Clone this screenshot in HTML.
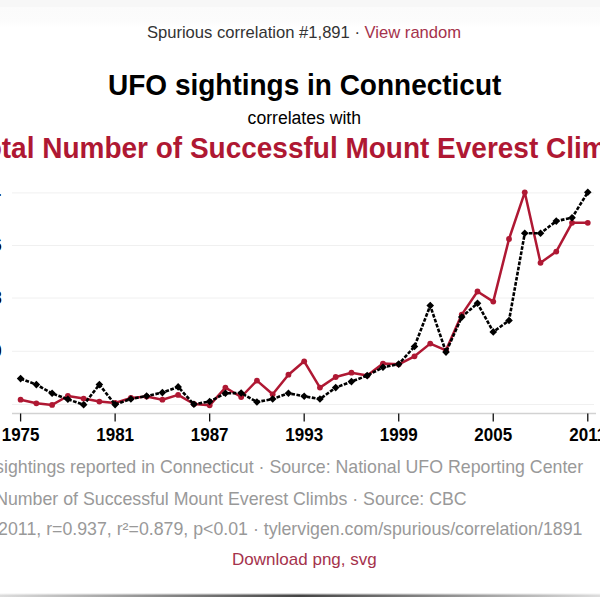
<!DOCTYPE html>
<html><head><meta charset="utf-8"><style>
html,body{margin:0;padding:0;background:#fff;width:600px;height:600px;overflow:hidden}
svg{display:block}
text{font-family:"Liberation Sans",sans-serif}
.ax{font-weight:bold;font-size:17px;fill:#000}
.top{font-size:16.6px;fill:#333}
.ft{font-size:17.75px;fill:#999}
</style></head><body>
<svg width="600" height="600" viewBox="0 0 600 600">
<defs>
<linearGradient id="tg" x1="0" y1="0" x2="0" y2="1"><stop offset="0" stop-color="#fbfbfb"/><stop offset="0.7" stop-color="#fcfcfc"/><stop offset="1" stop-color="#fff"/></linearGradient>
<linearGradient id="bg" x1="0" y1="0" x2="1" y2="0"><stop offset="0" stop-color="#ddd"/><stop offset="0.5" stop-color="#444"/><stop offset="1" stop-color="#ddd"/></linearGradient>
</defs>
<rect x="0" y="0" width="600" height="7.5" fill="#f7f7f7"/><rect x="0" y="7.5" width="600" height="20" fill="url(#tg)"/>
<text x="304" y="37.7" text-anchor="middle" class="top">Spurious correlation #1,891 · <tspan fill="#a5324c">View random</tspan></text>
<text transform="translate(304.7 94.9) scale(1 1.05)" x="0" y="0" text-anchor="middle" style="font-weight:bold;font-size:28px" fill="#000">UFO sightings in Connecticut</text>
<text x="304.3" y="123.5" text-anchor="middle" style="font-size:17.6px" fill="#000">correlates with</text>
<text transform="translate(304.5 157.7) scale(1 1.04)" x="0" y="0" text-anchor="middle" style="font-weight:bold;font-size:28px" fill="#af1833">Total Number of Successful Mount Everest Climbs</text>
<line x1="12" x2="594" y1="192.9" y2="192.9" stroke="#f0f0f0" stroke-width="1"/><line x1="12" x2="594" y1="245.5" y2="245.5" stroke="#f0f0f0" stroke-width="1"/><line x1="12" x2="594" y1="298" y2="298" stroke="#f0f0f0" stroke-width="1"/><line x1="12" x2="594" y1="351.3" y2="351.3" stroke="#f0f0f0" stroke-width="1"/><line x1="12" x2="594" y1="404.5" y2="404.5" stroke="#f0f0f0" stroke-width="1"/>
<line x1="12" x2="596" y1="413.6" y2="413.6" stroke="#d2d2d2" stroke-width="1.5"/>
<line x1="20.60" x2="20.60" y1="413.5" y2="421.5" stroke="#111" stroke-width="1.3"/><line x1="115.13" x2="115.13" y1="413.5" y2="421.5" stroke="#111" stroke-width="1.3"/><line x1="209.66" x2="209.66" y1="413.5" y2="421.5" stroke="#111" stroke-width="1.3"/><line x1="304.19" x2="304.19" y1="413.5" y2="421.5" stroke="#111" stroke-width="1.3"/><line x1="398.72" x2="398.72" y1="413.5" y2="421.5" stroke="#111" stroke-width="1.3"/><line x1="493.25" x2="493.25" y1="413.5" y2="421.5" stroke="#111" stroke-width="1.3"/><line x1="587.78" x2="587.78" y1="413.5" y2="421.5" stroke="#111" stroke-width="1.3"/><text transform="translate(20.60 441.3) scale(1 1.08)" text-anchor="middle" class="ax">1975</text><text transform="translate(115.13 441.3) scale(1 1.08)" text-anchor="middle" class="ax">1981</text><text transform="translate(209.66 441.3) scale(1 1.08)" text-anchor="middle" class="ax">1987</text><text transform="translate(304.19 441.3) scale(1 1.08)" text-anchor="middle" class="ax">1993</text><text transform="translate(398.72 441.3) scale(1 1.08)" text-anchor="middle" class="ax">1999</text><text transform="translate(493.25 441.3) scale(1 1.08)" text-anchor="middle" class="ax">2005</text><text transform="translate(587.78 441.3) scale(1 1.08)" text-anchor="middle" class="ax">2011</text><text transform="translate(0.8 198.8) scale(1 1.08)" text-anchor="end" class="ax">24</text><text transform="translate(1.8 251) scale(1 1.08)" text-anchor="end" class="ax">16</text><text transform="translate(1.8 304) scale(1 1.08)" text-anchor="end" class="ax">8</text><text transform="translate(1.7 357) scale(1 1.08)" text-anchor="end" class="ax">0</text>
<polyline points="20.60,399.70 36.36,403.30 52.11,404.90 67.87,396.00 83.62,398.60 99.38,401.60 115.13,403.00 130.89,398.00 146.64,396.60 162.40,399.70 178.15,394.90 193.91,404.00 209.66,405.30 225.41,387.60 241.17,397.00 256.93,380.60 272.68,394.30 288.44,374.70 304.19,361.30 319.95,387.60 335.70,377.00 351.46,372.70 367.21,375.60 382.97,363.60 398.72,364.30 414.48,356.30 430.23,343.60 445.99,350.30 461.74,314.60 477.50,291.50 493.25,301.60 509.01,239.00 524.76,192.30 540.52,262.80 556.27,251.60 572.03,222.80 587.78,222.80" fill="none" stroke="#af1833" stroke-width="2.5" stroke-linejoin="round"/>
<circle cx="20.60" cy="399.70" r="2.9" fill="#af1833"/><circle cx="36.36" cy="403.30" r="2.9" fill="#af1833"/><circle cx="52.11" cy="404.90" r="2.9" fill="#af1833"/><circle cx="67.87" cy="396.00" r="2.9" fill="#af1833"/><circle cx="83.62" cy="398.60" r="2.9" fill="#af1833"/><circle cx="99.38" cy="401.60" r="2.9" fill="#af1833"/><circle cx="115.13" cy="403.00" r="2.9" fill="#af1833"/><circle cx="130.89" cy="398.00" r="2.9" fill="#af1833"/><circle cx="146.64" cy="396.60" r="2.9" fill="#af1833"/><circle cx="162.40" cy="399.70" r="2.9" fill="#af1833"/><circle cx="178.15" cy="394.90" r="2.9" fill="#af1833"/><circle cx="193.91" cy="404.00" r="2.9" fill="#af1833"/><circle cx="209.66" cy="405.30" r="2.9" fill="#af1833"/><circle cx="225.41" cy="387.60" r="2.9" fill="#af1833"/><circle cx="241.17" cy="397.00" r="2.9" fill="#af1833"/><circle cx="256.93" cy="380.60" r="2.9" fill="#af1833"/><circle cx="272.68" cy="394.30" r="2.9" fill="#af1833"/><circle cx="288.44" cy="374.70" r="2.9" fill="#af1833"/><circle cx="304.19" cy="361.30" r="2.9" fill="#af1833"/><circle cx="319.95" cy="387.60" r="2.9" fill="#af1833"/><circle cx="335.70" cy="377.00" r="2.9" fill="#af1833"/><circle cx="351.46" cy="372.70" r="2.9" fill="#af1833"/><circle cx="367.21" cy="375.60" r="2.9" fill="#af1833"/><circle cx="382.97" cy="363.60" r="2.9" fill="#af1833"/><circle cx="398.72" cy="364.30" r="2.9" fill="#af1833"/><circle cx="414.48" cy="356.30" r="2.9" fill="#af1833"/><circle cx="430.23" cy="343.60" r="2.9" fill="#af1833"/><circle cx="445.99" cy="350.30" r="2.9" fill="#af1833"/><circle cx="461.74" cy="314.60" r="2.9" fill="#af1833"/><circle cx="477.50" cy="291.50" r="2.9" fill="#af1833"/><circle cx="493.25" cy="301.60" r="2.9" fill="#af1833"/><circle cx="509.01" cy="239.00" r="2.9" fill="#af1833"/><circle cx="524.76" cy="192.30" r="2.9" fill="#af1833"/><circle cx="540.52" cy="262.80" r="2.9" fill="#af1833"/><circle cx="556.27" cy="251.60" r="2.9" fill="#af1833"/><circle cx="572.03" cy="222.80" r="2.9" fill="#af1833"/><circle cx="587.78" cy="222.80" r="2.9" fill="#af1833"/>
<polyline points="20.60,378.60 36.36,384.60 52.11,393.30 67.87,399.30 83.62,404.80 99.38,384.60 115.13,404.60 130.89,399.00 146.64,396.00 162.40,392.60 178.15,386.90 193.91,404.30 209.66,401.50 225.41,393.30 241.17,393.00 256.93,402.00 272.68,399.00 288.44,393.30 304.19,396.30 319.95,399.00 335.70,387.60 351.46,381.60 367.21,375.60 382.97,367.30 398.72,364.10 414.48,346.50 430.23,305.60 445.99,352.10 461.74,317.10 477.50,303.20 493.25,331.90 509.01,320.50 524.76,233.30 540.52,233.30 556.27,221.10 572.03,217.80 587.78,192.30" fill="none" stroke="#000" stroke-width="2.6" stroke-dasharray="3.7 1.5"/>
<path d="M20.60 374.80L24.40 378.60L20.60 382.40L16.80 378.60Z" fill="#000"/><path d="M36.36 380.80L40.16 384.60L36.36 388.40L32.56 384.60Z" fill="#000"/><path d="M52.11 389.50L55.91 393.30L52.11 397.10L48.31 393.30Z" fill="#000"/><path d="M67.87 395.50L71.67 399.30L67.87 403.10L64.07 399.30Z" fill="#000"/><path d="M83.62 401.00L87.42 404.80L83.62 408.60L79.82 404.80Z" fill="#000"/><path d="M99.38 380.80L103.17 384.60L99.38 388.40L95.58 384.60Z" fill="#000"/><path d="M115.13 400.80L118.93 404.60L115.13 408.40L111.33 404.60Z" fill="#000"/><path d="M130.89 395.20L134.69 399.00L130.89 402.80L127.09 399.00Z" fill="#000"/><path d="M146.64 392.20L150.44 396.00L146.64 399.80L142.84 396.00Z" fill="#000"/><path d="M162.40 388.80L166.20 392.60L162.40 396.40L158.59 392.60Z" fill="#000"/><path d="M178.15 383.10L181.95 386.90L178.15 390.70L174.35 386.90Z" fill="#000"/><path d="M193.91 400.50L197.71 404.30L193.91 408.10L190.10 404.30Z" fill="#000"/><path d="M209.66 397.70L213.46 401.50L209.66 405.30L205.86 401.50Z" fill="#000"/><path d="M225.41 389.50L229.22 393.30L225.41 397.10L221.61 393.30Z" fill="#000"/><path d="M241.17 389.20L244.97 393.00L241.17 396.80L237.37 393.00Z" fill="#000"/><path d="M256.93 398.20L260.73 402.00L256.93 405.80L253.12 402.00Z" fill="#000"/><path d="M272.68 395.20L276.48 399.00L272.68 402.80L268.88 399.00Z" fill="#000"/><path d="M288.44 389.50L292.24 393.30L288.44 397.10L284.64 393.30Z" fill="#000"/><path d="M304.19 392.50L307.99 396.30L304.19 400.10L300.39 396.30Z" fill="#000"/><path d="M319.95 395.20L323.75 399.00L319.95 402.80L316.15 399.00Z" fill="#000"/><path d="M335.70 383.80L339.50 387.60L335.70 391.40L331.90 387.60Z" fill="#000"/><path d="M351.46 377.80L355.26 381.60L351.46 385.40L347.66 381.60Z" fill="#000"/><path d="M367.21 371.80L371.01 375.60L367.21 379.40L363.41 375.60Z" fill="#000"/><path d="M382.97 363.50L386.77 367.30L382.97 371.10L379.17 367.30Z" fill="#000"/><path d="M398.72 360.30L402.52 364.10L398.72 367.90L394.92 364.10Z" fill="#000"/><path d="M414.48 342.70L418.28 346.50L414.48 350.30L410.68 346.50Z" fill="#000"/><path d="M430.23 301.80L434.03 305.60L430.23 309.40L426.43 305.60Z" fill="#000"/><path d="M445.99 348.30L449.79 352.10L445.99 355.90L442.19 352.10Z" fill="#000"/><path d="M461.74 313.30L465.54 317.10L461.74 320.90L457.94 317.10Z" fill="#000"/><path d="M477.50 299.40L481.30 303.20L477.50 307.00L473.70 303.20Z" fill="#000"/><path d="M493.25 328.10L497.05 331.90L493.25 335.70L489.45 331.90Z" fill="#000"/><path d="M509.01 316.70L512.81 320.50L509.01 324.30L505.21 320.50Z" fill="#000"/><path d="M524.76 229.50L528.56 233.30L524.76 237.10L520.96 233.30Z" fill="#000"/><path d="M540.52 229.50L544.32 233.30L540.52 237.10L536.72 233.30Z" fill="#000"/><path d="M556.27 217.30L560.07 221.10L556.27 224.90L552.47 221.10Z" fill="#000"/><path d="M572.03 214.00L575.83 217.80L572.03 221.60L568.23 217.80Z" fill="#000"/><path d="M587.78 188.50L591.58 192.30L587.78 196.10L583.98 192.30Z" fill="#000"/>
<text x="-47.3" y="473.4" class="ft">UFO sightings reported in Connecticut · Source: National UFO Reporting Center</text>
<text x="-47.3" y="504.6" class="ft">Total Number of Successful Mount Everest Climbs · Source: CBC</text>
<text x="-47.3" y="535.3" class="ft">1975-2011, r=0.937, r²=0.879, p&lt;0.01 · tylervigen.com/spurious/correlation/1891</text>
<text x="304.4" y="565" text-anchor="middle" style="font-size:17px" fill="#a5324c">Download png, svg</text>
<rect x="0" y="593.7" width="600" height="1.3" fill="url(#bg)" opacity="0.6"/><rect x="0" y="595" width="600" height="2" fill="url(#bg)"/>
</svg>
</body></html>
